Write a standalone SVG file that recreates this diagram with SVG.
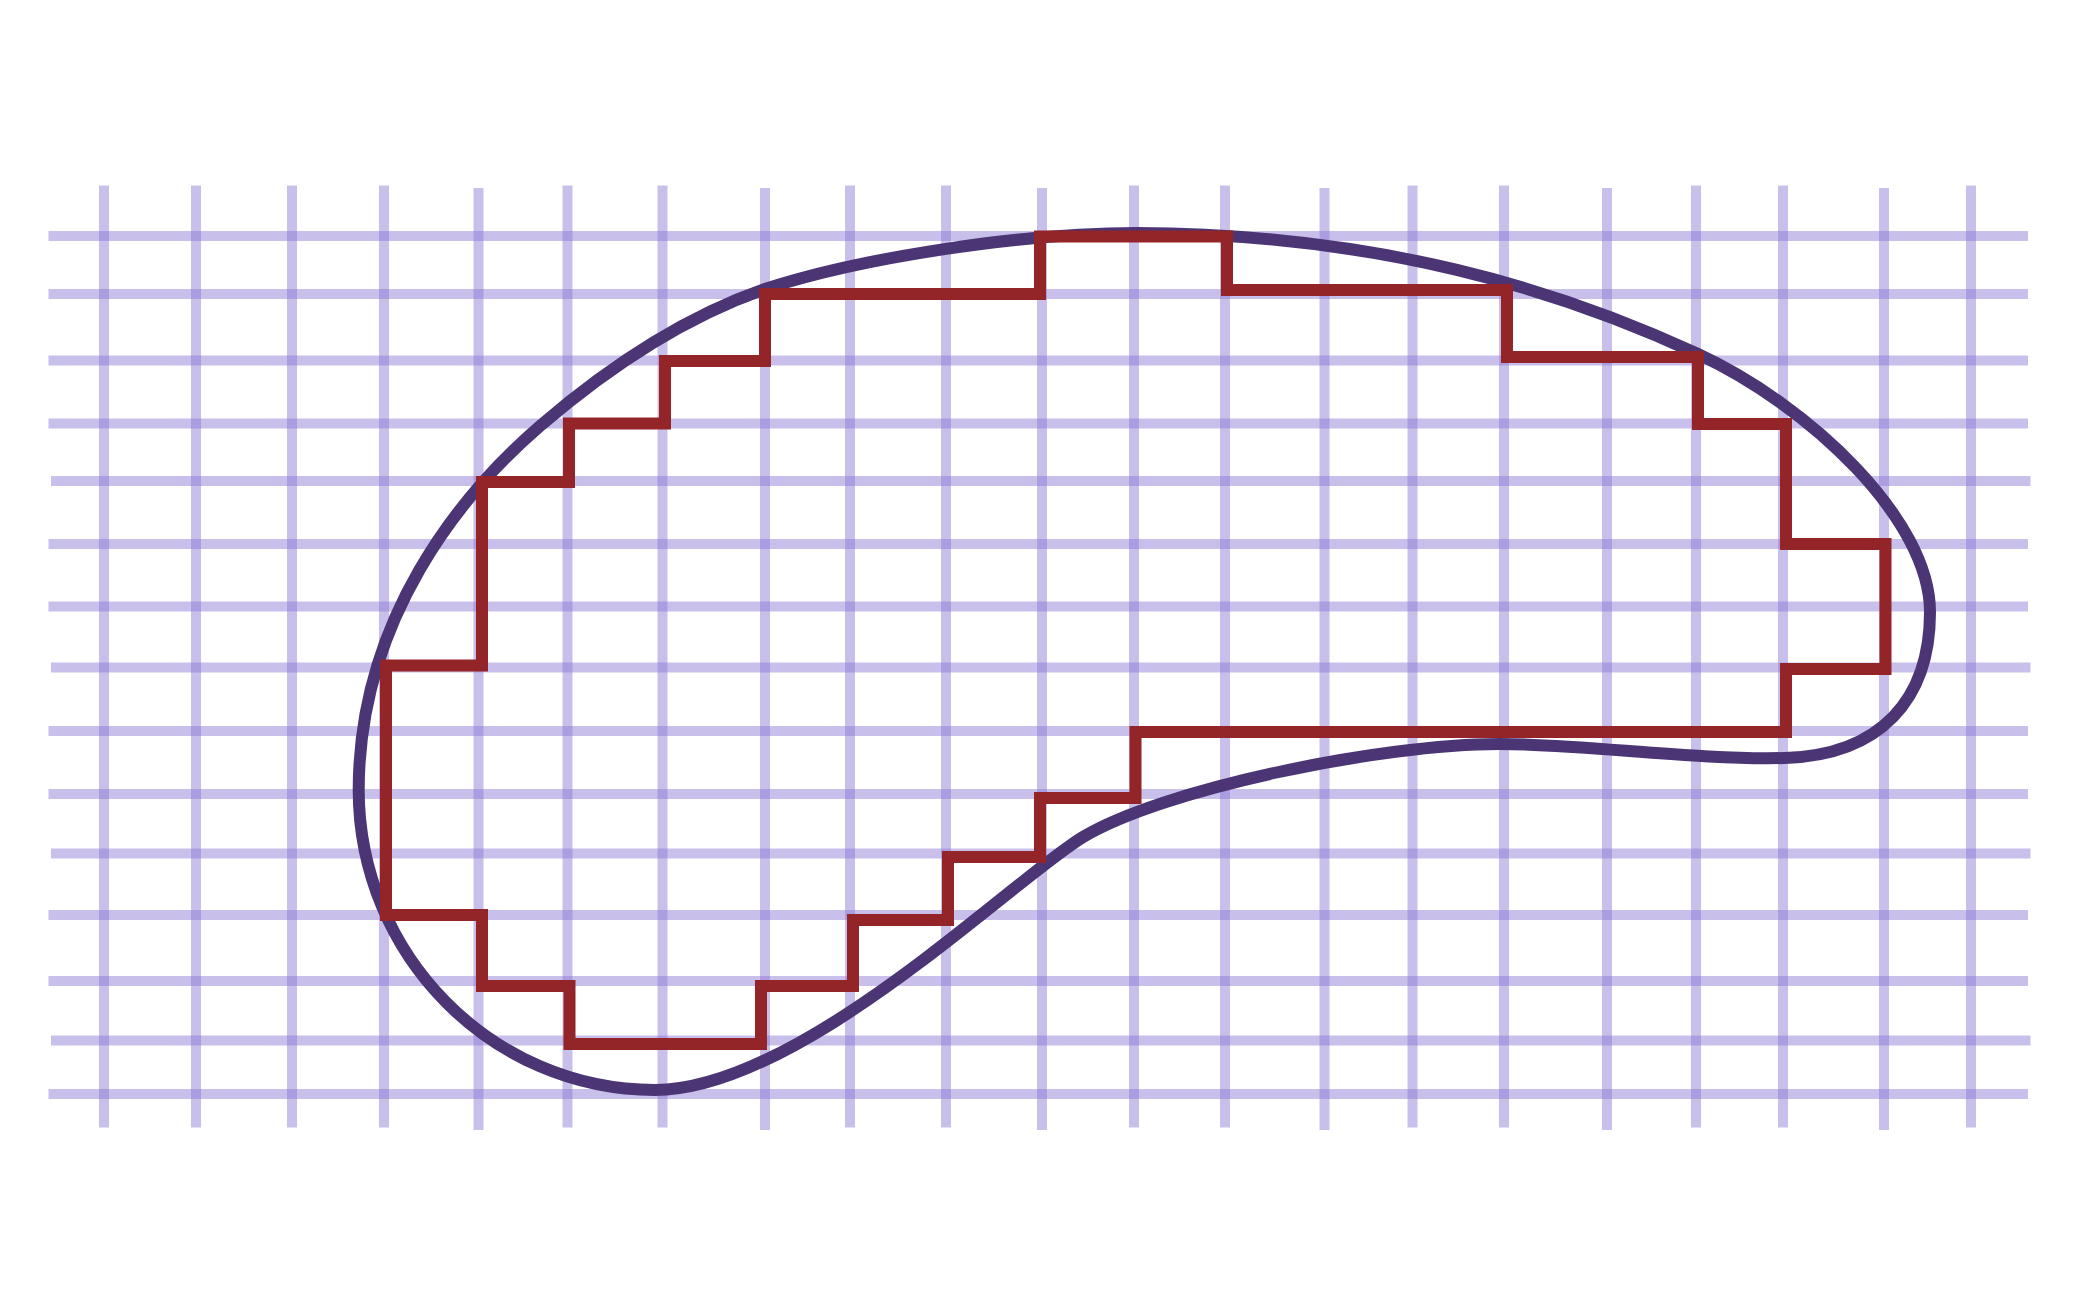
<svg xmlns="http://www.w3.org/2000/svg" width="2089" height="1314" viewBox="0 0 2089 1314">
<style>
.g line{stroke:rgb(139,118,213);stroke-opacity:0.47;stroke-width:10}
.curve{fill:none;stroke:#4b3574;stroke-width:12}
.stair{fill:none;stroke:#932428;stroke-width:12;stroke-linejoin:miter}
</style>
<rect width="2089" height="1314" fill="#fff"/>
<g id="grid" class="g">
<line x1="104" y1="185.5" x2="104" y2="1127.5"/>
<line x1="196" y1="185.5" x2="196" y2="1127.5"/>
<line x1="292" y1="185.5" x2="292" y2="1127.5"/>
<line x1="384" y1="185.5" x2="384" y2="1127.5"/>
<line x1="478.5" y1="188" x2="478.5" y2="1130"/>
<line x1="567.5" y1="185.5" x2="567.5" y2="1127.5"/>
<line x1="662.5" y1="185.5" x2="662.5" y2="1127.5"/>
<line x1="765" y1="188" x2="765" y2="1130"/>
<line x1="850" y1="185.5" x2="850" y2="1127.5"/>
<line x1="946" y1="185.5" x2="946" y2="1127.5"/>
<line x1="1042" y1="188" x2="1042" y2="1130"/>
<line x1="1134" y1="185.5" x2="1134" y2="1127.5"/>
<line x1="1225" y1="185.5" x2="1225" y2="1127.5"/>
<line x1="1324.5" y1="188" x2="1324.5" y2="1130"/>
<line x1="1412.5" y1="185.5" x2="1412.5" y2="1127.5"/>
<line x1="1504" y1="185.5" x2="1504" y2="1127.5"/>
<line x1="1607" y1="188" x2="1607" y2="1130"/>
<line x1="1696" y1="185.5" x2="1696" y2="1127.5"/>
<line x1="1783" y1="185.5" x2="1783" y2="1127.5"/>
<line x1="1884" y1="188" x2="1884" y2="1130"/>
<line x1="1971" y1="185.5" x2="1971" y2="1127.5"/>
<line x1="48.5" y1="236" x2="2028" y2="236"/>
<line x1="48.5" y1="294" x2="2028" y2="294"/>
<line x1="48.5" y1="360.5" x2="2028" y2="360.5"/>
<line x1="48.5" y1="423.5" x2="2028" y2="423.5"/>
<line x1="51" y1="481" x2="2030.5" y2="481"/>
<line x1="48.5" y1="544" x2="2028" y2="544"/>
<line x1="48.5" y1="606.5" x2="2028" y2="606.5"/>
<line x1="51" y1="667.5" x2="2030.5" y2="667.5"/>
<line x1="48.5" y1="731" x2="2028" y2="731"/>
<line x1="48.5" y1="794" x2="2028" y2="794"/>
<line x1="51" y1="853.5" x2="2030.5" y2="853.5"/>
<line x1="48.5" y1="915" x2="2028" y2="915"/>
<line x1="48.5" y1="981" x2="2028" y2="981"/>
<line x1="51" y1="1040.5" x2="2030.5" y2="1040.5"/>
<line x1="48.5" y1="1094" x2="2028" y2="1094"/>
</g>
<g id="blob">
<path class="curve" d="M1137,233 C1380,234 1560,290 1698,354 C1810,406 1930,520 1930,612 C1930,700 1880,755 1785,758 C1700,760.5 1580,744 1500,744 C1380,744 1163,789 1083,837 C1013,879 800,1090 655,1090 C492,1090 358.7,955 358.7,790 C358.7,620 460,495 540,426 C615,361.5 690,315 765,289 C860,258 1020,233 1137,233 Z"/>
</g>
<g id="staircase">
<polygon class="stair" points="482,482 569,482 569,423.5 665,423.5 665,361 765,361 765,294 1040,294 1040,236.5 1227,236.5 1227,290 1507,290 1507,357 1698,357 1698,424 1786,424 1786,544 1885.5,544 1885.5,669 1786,669 1786,732 1135.5,732 1135.5,798 1040,798 1040,857 948,857 948,920 853,920 853,986 761,986 761,1044 569.5,1044 569.5,986 482,986 482,915 386,915 386,665.5 482,665.5"/>
</g>
</svg>
